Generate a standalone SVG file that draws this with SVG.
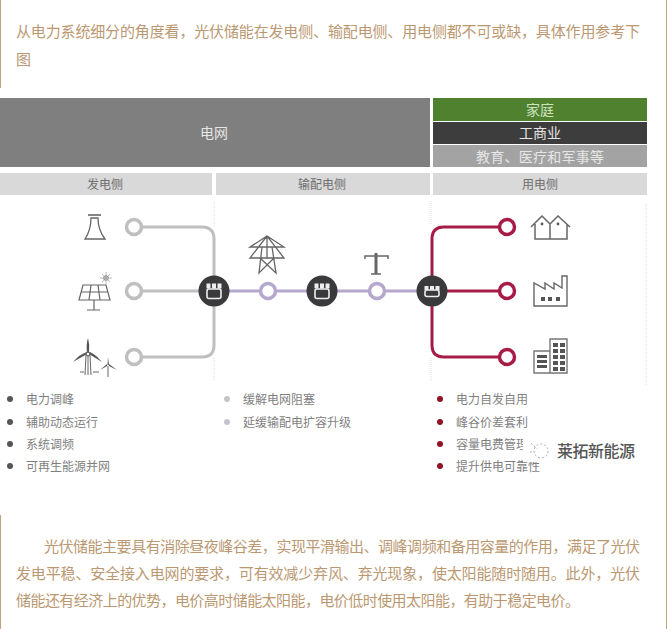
<svg xmlns="http://www.w3.org/2000/svg" width="667" height="629" viewBox="0 0 667 629">
<style>
text{font-family:"Noto Sans CJK SC","Liberation Sans",sans-serif}
.p{font-size:15px;fill:#bb9872}
.w{font-size:14px;fill:#e6e6e6;text-anchor:middle}
.h{font-size:12px;fill:#6f6f6f;text-anchor:middle}
.b{font-size:12px;fill:#7f7f7f}
.g{fill:none;stroke:#bfbfbf;stroke-width:3}
.v{fill:none;stroke:#b5a8cc;stroke-width:3}
.r{fill:none;stroke:#a51c46;stroke-width:3}
.ic{fill:none;stroke:#666;stroke-width:1.2}
.icf{fill:#555;stroke:none}
.d{stroke:#ddd;stroke-width:1;stroke-dasharray:1 1;fill:none}
</style>
<rect width="667" height="629" fill="#fff"/>
<g id="borders" fill="#c2a27e">
<rect x="0" y="0" width="1" height="88"/>
<rect x="0" y="515" width="1" height="114"/>
<rect x="666" y="0" width="1" height="629"/>
</g>
<text class="p" x="16" y="37" textLength="624">从电力系统细分的角度看，光伏储能在发电侧、输配电侧、用电侧都不可或缺，具体作用参考下</text>
<text class="p" x="16" y="65">图</text>
<g id="grid"><rect x="0" y="98" width="430" height="69" fill="#7f7f7f"/><text class="w" x="214" y="138">电网</text></g>
<g id="home"><rect x="433" y="98" width="214" height="23" fill="#50812f"/><text class="w" x="540" y="115" style="fill:#cfe3c0">家庭</text></g>
<g id="industry"><rect x="433" y="122" width="214" height="22" fill="#3d3d3d"/><text class="w" x="540" y="138">工商业</text></g>
<g id="edu"><rect x="433" y="145" width="214" height="22" fill="#a3a3a3"/><text class="w" x="540" y="162" textLength="128">教育、医疗和军事等</text></g>
<g id="gen-side"><rect x="0" y="173" width="212" height="22" fill="#d9d9d9"/><text class="h" x="105" y="189">发电侧</text></g>
<g id="trans-side"><rect x="216" y="173" width="214" height="22" fill="#d9d9d9"/><text class="h" x="322" y="189">输配电侧</text></g>
<g id="use-side"><rect x="433" y="173" width="214" height="22" fill="#d9d9d9"/><text class="h" x="540" y="189">用电侧</text></g>
<g id="dividers" class="d">
<path d="M214 201V226M214 358V382M431 201V224M431 358V382M646 204V386"/>
</g>
<g id="connectors">
<path class="g" d="M142 227H202Q214 227 214 239V345Q214 357 202 357H142M142 291H214"/>
<path class="v" d="M214 291H432"/>
<path class="r" d="M500 227H444Q432 227 432 239V345Q432 357 444 357H500M432 291H500"/>
</g>
<g id="gen-nodes" fill="#fff" stroke="#bfbfbf" stroke-width="3.5"><circle cx="134" cy="227" r="7.5"/><circle cx="134" cy="291" r="7.5"/><circle cx="134" cy="357" r="7.5"/></g>
<g id="trans-nodes" fill="#fff" stroke="#b5a8cc" stroke-width="3.5"><circle cx="268" cy="291" r="7.5"/><circle cx="377" cy="291" r="7.5"/></g>
<g id="use-nodes" fill="#fff" stroke="#a51c46" stroke-width="3.5"><circle cx="507" cy="227" r="7.5"/><circle cx="507" cy="291" r="7.5"/><circle cx="507" cy="357" r="7.5"/></g>
<defs><g id="hubi"><circle r="15.5" fill="#3a3a3c"/><rect x="-7" y="-2" width="14" height="9.5" rx="2" fill="none" stroke="#eee" stroke-width="1.6"/><path d="M-7.5-5H7.5" stroke="#eee" stroke-width="5" stroke-dasharray="4 1.5"/></g></defs>
<g id="hub1"><use href="#hubi" x="214" y="291"/></g>
<g id="hub2"><use href="#hubi" x="322" y="291"/></g>
<g id="hub3"><circle cx="432" cy="291" r="15.5" fill="#3a3a3c"/><rect x="425" y="290" width="14" height="6.5" rx="2" fill="none" stroke="#eee" stroke-width="1.6"/><path d="M424.500 288H439.500" stroke="#eee" stroke-width="4" stroke-dasharray="4 1.500"/></g>
<g id="icon-plant" class="ic"><path d="M88 215H101" stroke-width="1.600"/><path d="M91 218H98Q98 230 105 239H85Q91 230 91 218Z" stroke-width="1.300"/></g>
<g id="icon-solar" class="ic"><path d="M83 285H106L110 300H79ZM81 292H108M91 285L89 300M98 285L100 300M94 300V310M87 310H100"/><circle cx="106" cy="278" r="2.200" stroke="#999"/><path d="M106 272V284M100 278H112M102 274L110 282M110 274L102 282" stroke="#999" stroke-width=".7"/></g>
<g id="icon-wind" class="ic"><path class="icf" d="M87 353Q86 344 88 338Q90 345 89 353ZM87 354L73 362Q80 354 87 352ZM89 354L102 362Q95 354 90 352ZM107.500 365L108 357L109 365ZM107 366L100 370L107 364ZM109 366L117 370L109 364Z"/><path d="M88 355V375M86 355L85 375M90 355L91 375M108 366V377M80 372H84M93 372H99" stroke-width="1"/><circle cx="88" cy="354" r="1.800" fill="#fff"/></g>
<g id="icon-pylon" class="ic"><path d="M267 236L250 247H284ZM267 236L250 258H284ZM262 247L259 273L274 258M272 247L276 273L260 258M267 236V258" stroke-width="1.300"/></g>
<g id="icon-pole" class="ic"><path d="M365 259V256H388V259" stroke-width="1.500"/><path d="M376 253V274" stroke-width="3"/><path d="M371 274H381" stroke-width="1.500"/></g>
<g id="icon-house" class="ic"><path d="M531 227L542 216L550 224L558 216L570 227M535 224V239H567V224M550 224V239" stroke-width="1.500"/><circle class="icf" cx="542" cy="224" r="1.400"/><circle class="icf" cx="558" cy="224" r="1.400"/></g>
<g id="icon-factory" class="ic"><path d="M534 306V283L545 289V283L554 289V283L562 288V276H567V306Z" stroke-width="1.400"/><path class="icf" d="M541 297h4v4h-4zM548 297h4v4h-4zM556 297h4v4h-4z"/></g>
<g id="icon-building"><path fill="#fff" stroke="#777" stroke-width="1.400" d="M534 351H550V373H534ZM550 339H567V373H550Z"/><path class="icf" d="M537 355h10v3h-10zM537 360h10v3h-10zM537 365h10v3h-10zM553 343h5v4h-5zM560 343h5v4h-5zM553 349h5v4h-5zM560 349h5v4h-5zM553 355h5v4h-5zM560 355h5v4h-5zM553 361h5v4h-5zM560 361h5v4h-5zM553 367h5v4h-5zM560 367h5v4h-5z"/></g>
<g id="list-gen"><g fill="#555"><circle cx="10" cy="399" r="3"/><circle cx="10" cy="422" r="3"/><circle cx="10" cy="444" r="3"/><circle cx="10" cy="466" r="3"/></g>
<text class="b" x="26" y="404">电力调峰</text><text class="b" x="26" y="427">辅助动态运行</text><text class="b" x="26" y="449">系统调频</text><text class="b" x="26" y="471">可再生能源并网</text></g>
<g id="list-trans"><g fill="#c4c4cc"><circle cx="227" cy="399" r="3"/><circle cx="227" cy="422" r="3"/></g>
<text class="b" x="243" y="404">缓解电网阻塞</text><text class="b" x="243" y="427">延缓输配电扩容升级</text></g>
<g id="list-use"><g fill="#8f1322"><circle cx="440" cy="399" r="3"/><circle cx="440" cy="422" r="3"/><circle cx="440" cy="444" r="3"/><circle cx="440" cy="466" r="3"/></g>
<text class="b" x="456" y="404">电力自发自用</text><text class="b" x="456" y="427">峰谷价差套利</text><text class="b" x="456" y="449">容量电费管理</text><text class="b" x="456" y="471">提升供电可靠性</text></g>
<g id="watermark"><rect x="523" y="436" width="30" height="26" fill="#fff"/><g fill="#fff" stroke="#999" stroke-width=".8" stroke-dasharray="2 2"><circle cx="541" cy="451" r="7"/><path d="M531 443L537 449M530 452H534" fill="none"/></g><text x="557" y="457" font-size="16" font-weight="500" fill="#555" textLength="78">莱拓新能源</text></g>
<text class="p" x="44" y="552" textLength="596">光伏储能主要具有消除昼夜峰谷差，实现平滑输出、调峰调频和备用容量的作用，满足了光伏</text>
<text class="p" x="16" y="579" textLength="624">发电平稳、安全接入电网的要求，可有效减少弃风、弃光现象，使太阳能随时随用。此外，光伏</text>
<text class="p" x="16" y="606" textLength="564">储能还有经济上的优势，电价高时储能太阳能，电价低时使用太阳能，有助于稳定电价。</text>
</svg>
